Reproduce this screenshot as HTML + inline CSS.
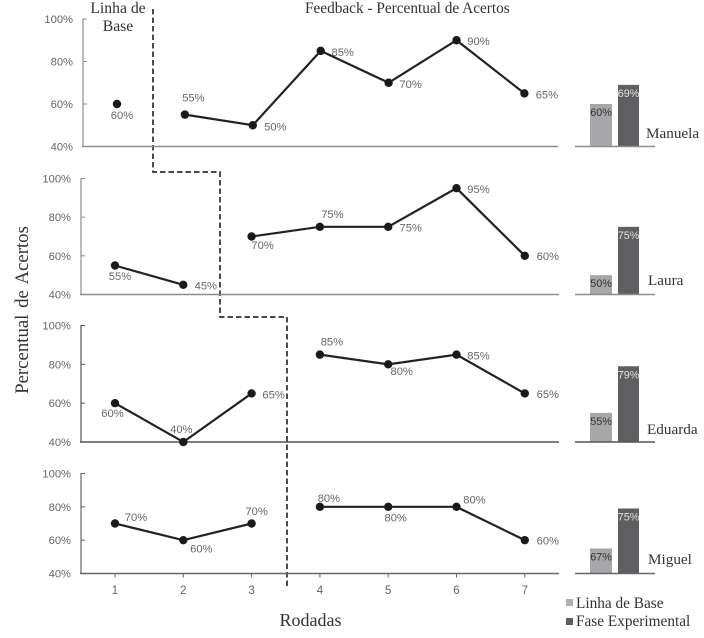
<!DOCTYPE html>
<html lang="pt">
<head>
<meta charset="utf-8">
<title>Percentual de Acertos</title>
<style>
html,body{margin:0;padding:0;background:#fff;}
#wrap{position:relative;width:704px;height:638px;overflow:hidden;}
svg{display:block;filter:blur(0.3px);}
.serif{font-family:"Liberation Serif",serif;fill:#333;}
.sans{font-family:"Liberation Sans",sans-serif;}
</style>
</head>
<body>
<div id="wrap">
<svg id="chart" width="704" height="638" viewBox="0 0 704 638" xmlns="http://www.w3.org/2000/svg">
  <text class="serif" x="118" y="13" font-size="15.7" text-anchor="middle">Linha de</text>
  <text class="serif" x="118" y="31" font-size="15.7" text-anchor="middle">Base</text>
  <text class="serif" x="305" y="13" font-size="15.3">Feedback - Percentual de Acertos</text>
  <text class="serif" x="0" y="0" font-size="18.8" word-spacing="2" text-anchor="middle" transform="translate(28,310) rotate(-90)">Percentual de Acertos</text>
  <text class="serif" x="310.5" y="626" font-size="18" text-anchor="middle">Rodadas</text>
  <rect x="566" y="599" width="7" height="7" fill="#b0b0b2"></rect>
  <text class="serif" x="576" y="608" font-size="15.3">Linha de Base</text>
  <rect x="566" y="618" width="7" height="7" fill="#5f5f61"></rect>
  <text class="serif" x="576" y="626" font-size="15.3">Fase Experimental</text>
  <path d="M153 9V172H220V317H287V588" fill="none" stroke="#2e2e2e" stroke-width="1.7" stroke-dasharray="5.5 3"></path>
</svg>
</div>
<script>
// Data
const rounds = [1, 2, 3, 4, 5, 6, 7];
const yTicks = [40, 60, 80, 100];
const participants = ['Manuela', 'Laura', 'Eduarda', 'Miguel'];
const manuelaValues = [60, 55, 50, 85, 70, 90, 65];
const lauraValues = [55, 45, 70, 75, 75, 95, 60];
const eduardaValues = [60, 40, 65, 85, 80, 85, 65];
const miguelValues = [70, 60, 70, 80, 80, 80, 60];
const baselineCounts = [1, 2, 3, 3];
const manuelaBars = [60, 69];
const lauraBars = [50, 75];
const eduardaBars = [55, 79];
const miguelBars = [55, 79];
const manuelaBarLabels = ['60%', '69%'];
const lauraBarLabels = ['50%', '75%'];
const eduardaBarLabels = ['55%', '79%'];
const miguelBarLabels = ['67%', '75%'];

// Layout
const svg = document.getElementById('chart');
const NS = 'http://www.w3.org/2000/svg';
const seriesValues = [manuelaValues, lauraValues, eduardaValues, miguelValues];
const barValues = [manuelaBars, lauraBars, eduardaBars, miguelBars];
const barLabels = [manuelaBarLabels, lauraBarLabels, eduardaBarLabels, miguelBarLabels];
const panelLayout = [
  {top: 19, bottom: 146.5, axisX: 83, x1: 117, step: 67.9, axisColor: '#8c8c8c', tickLabelX: 73, nameX: 646, nameY: 138},
  {top: 178.5, bottom: 294.5, axisX: 81, x1: 115, step: 68.3, axisColor: '#8c8c8c', tickLabelX: 71, nameX: 648, nameY: 285},
  {top: 325.5, bottom: 442, axisX: 81, x1: 115, step: 68.3, axisColor: '#555', tickLabelX: 71, nameX: 647, nameY: 434},
  {top: 473.5, bottom: 573.5, axisX: 81, x1: 115, step: 68.3, axisColor: '#666', tickLabelX: 71, nameX: 648, nameY: 564}
];
const labelNudges = [
  [[5, 11], [8.5, -17], [22.5, 1], [22, 1], [22, 1], [22, 0.5], [22.5, 1]],
  [[5, 10.5], [22.5, 0.5], [11, 8.5], [12.5, -13], [22.5, 0.5], [22, 1], [23, 0]],
  [[-2.5, 10], [-2, -13], [22, 1], [12, -13], [13.5, 6.5], [22, 1], [23, 0.5]],
  [[21, -6.5], [18, 8.5], [5, -12.5], [9, -9], [7.5, 10.5], [18, -7.5], [23, 0.5]]
];
const barX = [590, 618];
const barW = [22, 21];
const barColors = ['#a7a7aa', '#5f5f61'];
const barTextColors = ['#333', '#e2e2e2'];

function yScale(p, v) {
  return p.bottom - (v - 40) * (p.bottom - p.top) / 60;
}
function xScale(p, r) {
  return p.x1 + (r - 1) * p.step;
}
function make(tag, attrs, parent, text) {
  const el = document.createElementNS(NS, tag);
  for (const k in attrs) el.setAttribute(k, attrs[k]);
  if (text !== undefined) el.textContent = text;
  parent.appendChild(el);
  return el;
}

participants.forEach(function (name, i) {
  const p = panelLayout[i];
  const key = name.toLowerCase();
  const values = seriesValues[i];
  const panel = make('g', {}, svg);
  
  

  const axisEnd = i === 0 ? 558 : 559;
  const yAxis = make('line', {x1: p.axisX, x2: p.axisX, y1: p.top, y2: p.bottom, stroke: p.axisColor, 'stroke-width': 1.2}, panel);
  
  
  const xAxis = make('line', {x1: p.axisX - 1, x2: axisEnd, y1: p.bottom, y2: p.bottom, stroke: p.axisColor, 'stroke-width': 1.4}, panel);
  
  

  yTicks.forEach(function (t) {
    const y = yScale(p, t);
    const tick = make('line', {x1: p.axisX - 0.5, x2: p.axisX + 4, y1: y, y2: y, stroke: p.axisColor, 'stroke-width': 1}, panel);
    
    
    const tl = make('text', {x: p.tickLabelX, y: y + 4, 'font-size': 11.2, 'text-anchor': 'end', fill: '#666', class: 'sans'}, panel, t + '%');
    
    
  });

  const split = baselineCounts[i];
  [values.slice(0, split), values.slice(split)].forEach(function (seg, s) {
    if (seg.length < 2) return;
    const off = s === 0 ? 1 : split + 1;
    const pts = seg.map(function (v, j) {
      return xScale(p, off + j) + ',' + yScale(p, v);
    }).join(' ');
    const line = make('polyline', {points: pts, fill: 'none', stroke: '#222', 'stroke-width': 2.2}, panel);
    
    
  });

  values.forEach(function (v, j) {
    const cx = xScale(p, rounds[j]);
    const cy = yScale(p, v);
    const dot = make('circle', {cx: cx, cy: cy, r: 4.2, fill: '#1a1a1a'}, panel);
    
    
    const n = labelNudges[i][j];
    const lbl = make('text', {x: cx + n[0], y: cy + n[1] + 4, 'font-size': 11.2, 'text-anchor': 'middle', fill: '#666', class: 'sans'}, panel, v + '%');
    
    
  });

  barValues[i].forEach(function (v, b) {
    const top = yScale(p, v);
    const bar = make('rect', {x: barX[b], y: top, width: barW[b], height: p.bottom - top, fill: barColors[b]}, panel);
    
    
    const bl = make('text', {x: barX[b] + barW[b] / 2, y: top + 12, 'font-size': 10.8, 'text-anchor': 'middle', fill: barTextColors[b], class: 'sans'}, panel, barLabels[i][b]);
    
    
  });
  const barAxis = make('line', {x1: 575, x2: 655, y1: p.bottom, y2: p.bottom, stroke: p.axisColor, 'stroke-width': 1.4}, panel);
  
  
  const nm = make('text', {x: p.nameX, y: p.nameY, 'font-size': 15.2, class: 'serif'}, panel, name);
  
  
});

const last = panelLayout[3];
rounds.forEach(function (r) {
  const x = xScale(last, r);
  const tick = make('line', {x1: x, x2: x, y1: last.bottom, y2: last.bottom + 4, stroke: '#666', 'stroke-width': 1}, svg);
  
  
  const tl = make('text', {x: x, y: 594, 'font-size': 11.5, 'text-anchor': 'middle', fill: '#666', class: 'sans'}, svg, String(r));
  
  
});
</script>
</body>
</html>
